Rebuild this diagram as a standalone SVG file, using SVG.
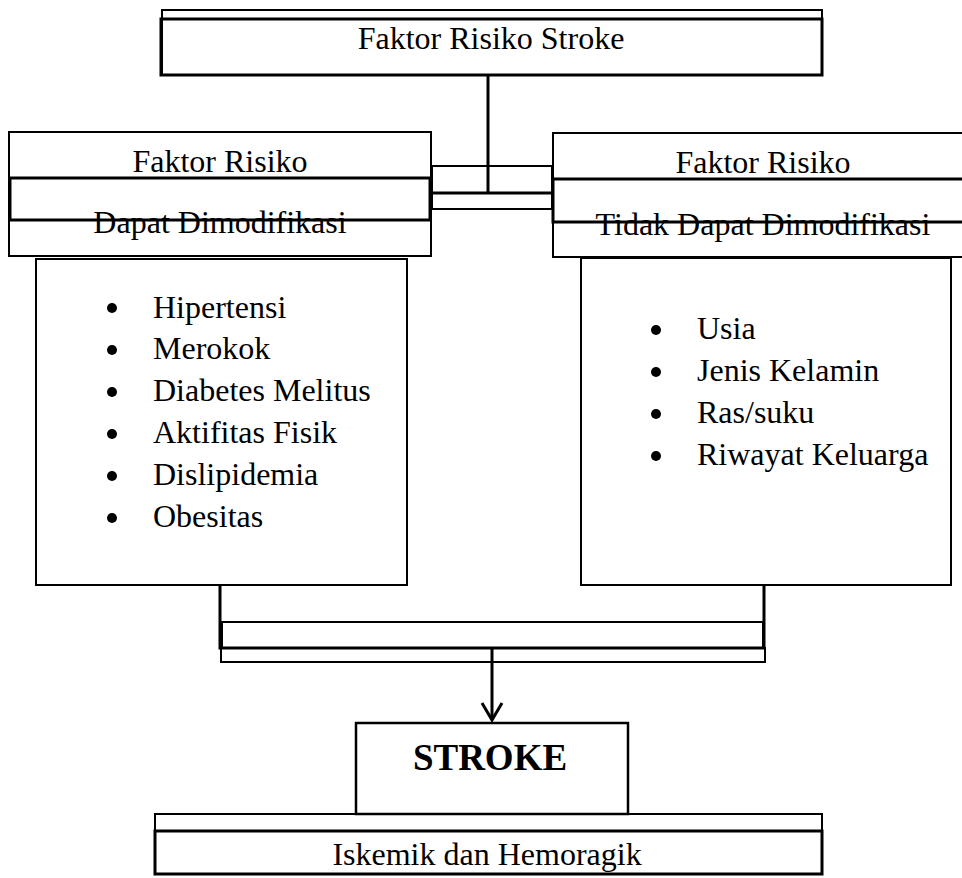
<svg xmlns="http://www.w3.org/2000/svg" width="962" height="878" viewBox="0 0 962 878">
<style>
text{font-family:"Times New Roman","Liberation Serif","DejaVu Serif",serif;font-size:32px;font-weight:normal;fill:#000}
.c{text-anchor:middle}
.b{font-weight:bold;font-size:37px}
.thin{fill:none;stroke:#000;stroke-width:2}
.thick{fill:none;stroke:#000;stroke-width:3}
</style>
<rect width="962" height="878" fill="#fff"/>
<g id="connectors">
<line class="thick" x1="488" y1="75" x2="488" y2="193"/>
<rect class="thin" x="432" y="166" width="120" height="43"/>
<line class="thick" x1="430" y1="193" x2="553" y2="193"/>
<rect class="thin" x="222" y="622" width="541" height="26"/>
<rect class="thin" x="221" y="648" width="544" height="14"/>
<polyline class="thick" points="220,585 220,648 764,648 764,585"/>
<line class="thick" x1="492" y1="648" x2="492" y2="719"/>
<polyline class="thick" points="482,703 492,720 502,703"/>
</g>
<g id="top">
<rect class="thin" x="162" y="10" width="660" height="65"/>
<rect class="thick" x="161" y="19" width="661" height="56"/>
<text class="c" x="491" y="49">Faktor Risiko Stroke</text>
</g>
<g id="left-header">
<rect class="thin" x="9" y="132" width="422" height="124"/>
<rect class="thick" x="10" y="178" width="420" height="42"/>
<text class="c" x="220" y="172">Faktor Risiko</text>
<text class="c" x="220" y="233">Dapat Dimodifikasi</text>
</g>
<g id="right-header">
<rect class="thin" x="553" y="133" width="422" height="124"/>
<rect class="thick" x="553" y="179" width="422" height="43"/>
<text class="c" x="763" y="173">Faktor Risiko</text>
<text class="c" x="763" y="235">Tidak Dapat Dimodifikasi</text>
</g>
<g id="left-list">
<rect class="thin" x="36" y="259" width="371" height="326"/>
<circle cx="112" cy="308" r="5"/><text x="153" y="318">Hipertensi</text>
<circle cx="112" cy="350" r="5"/><text x="153" y="359">Merokok</text>
<circle cx="112" cy="392" r="5"/><text x="153" y="401">Diabetes Melitus</text>
<circle cx="112" cy="434" r="5"/><text x="153" y="443">Aktifitas Fisik</text>
<circle cx="112" cy="476" r="5"/><text x="153" y="485">Dislipidemia</text>
<circle cx="112" cy="518" r="5"/><text x="153" y="527">Obesitas</text>
</g>
<g id="right-list">
<rect class="thin" x="581" y="258" width="370" height="327"/>
<circle cx="656" cy="330" r="5"/><text x="697" y="339">Usia</text>
<circle cx="656" cy="372" r="5"/><text x="697" y="381">Jenis Kelamin</text>
<circle cx="656" cy="414" r="5"/><text x="697" y="423">Ras/suku</text>
<circle cx="656" cy="456" r="5"/><text x="697" y="465">Riwayat Keluarga</text>
</g>
<g id="stroke">
<rect class="thin" x="356" y="723" width="272" height="91" style="stroke-width:2.5"/>
<text class="c b" x="490" y="770">STROKE</text>
</g>
<g id="types">
<rect class="thin" x="155" y="814" width="667" height="60"/>
<rect class="thick" x="155" y="831" width="667" height="43"/>
<text class="c" x="487" y="865">Iskemik dan Hemoragik</text>
</g>
</svg>
